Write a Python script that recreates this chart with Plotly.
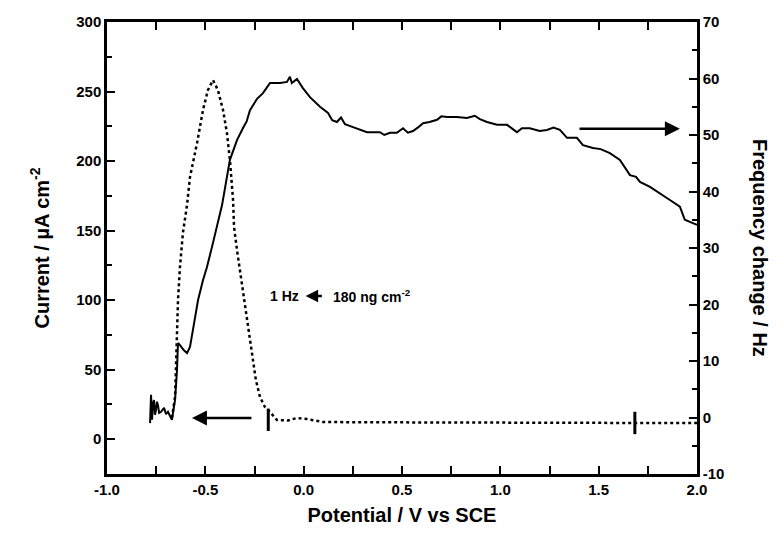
import plotly.graph_objects as go

# Current (dotted, left axis)
cur_x = [-0.670, -0.654, -0.644, -0.639, -0.629, -0.614, -0.593, -0.578, -0.542, -0.512,
         -0.487, -0.461, -0.436, -0.410, -0.390, -0.375, -0.359, -0.354, -0.339, -0.314,
         -0.288, -0.263, -0.243, -0.222, -0.197, -0.171, -0.136, -0.080, -0.034, 0.017,
         0.098, 0.300, 0.600, 1.000, 1.400, 1.700, 2.000]
cur_y = [15.3, 30.4, 76.4, 100.0, 123.8, 148.3, 168.4, 188.5, 213.0, 236.7,
         251.0, 258.2, 251.0, 236.7, 220.0, 200.7, 172.0, 152.6, 136.0, 112.3,
         87.9, 64.1, 42.6, 30.4, 23.2, 19.6, 13.8, 13.5, 15.3, 14.5,
         12.4, 12.2, 12.0, 11.8, 11.8, 11.7, 11.7]

# Frequency change (solid, right axis)
frq_x = [-0.781, -0.776, -0.771, -0.766, -0.761, -0.756, -0.751, -0.746, -0.741, -0.735,
         -0.725, -0.715, -0.710, -0.700, -0.690,
         -0.670, -0.654, -0.644, -0.639, -0.629, -0.609, -0.593, -0.578, -0.563, -0.537,
         -0.512, -0.492, -0.466, -0.441, -0.415, -0.375, -0.339, -0.309, -0.290, -0.273,
         -0.237, -0.207, -0.171, -0.140, -0.120, -0.085, -0.070, -0.060, -0.044, -0.034,
         -0.004, 0.032, 0.083, 0.100, 0.124, 0.145, 0.169, 0.190, 0.210, 0.251,
         0.322, 0.350, 0.388, 0.410, 0.439, 0.474, 0.505, 0.530, 0.556, 0.580,
         0.607, 0.640, 0.678, 0.700, 0.729, 0.779, 0.830, 0.870, 0.896, 0.932,
         0.983, 1.034, 1.060, 1.084, 1.110, 1.150, 1.200, 1.237, 1.270, 1.303,
         1.339, 1.389, 1.420, 1.471, 1.510, 1.557, 1.608, 1.659, 1.690, 1.710,
         1.761, 1.811, 1.862, 1.913, 1.938, 1.979, 2.000]
frq_y = [-1.0, 4.0, -0.4, 2.5, 3.1, 0.5, 1.3, 2.8, 2.2, 0.8,
         1.0, 1.6, 1.7, 0.6, 1.0,
         -0.4, 3.1, 8.4, 13.2, 12.8, 11.9, 11.4, 12.5, 15.5, 20.8,
         24.3, 26.6, 30.2, 33.7, 37.6, 45.6, 49.1, 51.2, 52.4, 54.4,
         56.4, 57.4, 59.2, 59.2, 59.2, 59.4, 60.3, 59.2, 59.7, 59.9,
         58.3, 56.7, 55.0, 54.6, 53.9, 52.6, 52.3, 53.1, 51.9, 51.4,
         50.5, 50.5, 50.5, 50.0, 50.4, 50.4, 51.2, 50.4, 50.7, 51.3,
         52.1, 52.3, 52.7, 53.3, 53.2, 53.2, 53.0, 53.4, 52.8, 52.3,
         51.8, 51.8, 51.2, 50.5, 51.2, 51.2, 50.7, 50.9, 51.3, 50.9,
         49.5, 49.5, 48.2, 47.7, 47.5, 46.8, 45.6, 42.9, 42.6, 41.7,
         40.8, 39.7, 38.5, 37.3, 35.0, 34.4, 34.1]

# Small vertical marks on the current trace
mark_x = [-0.18, 1.684]
mark_y = [14.0, 11.7]

x_ticks = [-1.0, -0.5, 0.0, 0.5, 1.0, 1.5, 2.0]
y_left_ticks = [0, 50, 100, 150, 200, 250, 300]
y_right_ticks = [-10, 0, 10, 20, 30, 40, 50, 60, 70]

fig = go.Figure()
fig.add_trace(go.Scatter(x=cur_x, y=cur_y, mode="lines",
                         line=dict(color="black", width=2.5, dash="dot"),
                         yaxis="y", showlegend=False))
fig.add_trace(go.Scatter(x=frq_x, y=frq_y, mode="lines",
                         line=dict(color="black", width=2),
                         yaxis="y2", showlegend=False))
fig.add_trace(go.Scatter(x=mark_x, y=mark_y, mode="markers",
                         marker=dict(symbol="line-ns", size=16,
                                     line=dict(color="black", width=3)),
                         yaxis="y", showlegend=False))

tickfont = dict(family="Liberation Sans, Arial, sans-serif", size=15, color="black")
titlefont = dict(family="Liberation Sans, Arial, sans-serif", size=20, color="black")
TC = "black"

fig.update_layout(
    width=781, height=541,
    margin=dict(l=107, r=84, t=22, b=67),
    paper_bgcolor="white", plot_bgcolor="white",
    xaxis=dict(range=[-1.0, 2.0], tickvals=x_ticks,
               ticktext=[f"<b>{v:.1f}</b>" for v in x_ticks],
               ticks="inside", ticklen=8, tickwidth=2, tickcolor=TC,
               minor=dict(dtick=0.25, tick0=0, ticks="inside", ticklen=5,
                          tickwidth=2, tickcolor=TC),
               showline=True, linewidth=2.5, linecolor="black", mirror="allticks",
               showgrid=False, zeroline=False, tickfont=tickfont,
               title=dict(text="<b>Potential / V vs SCE</b>", font=titlefont, standoff=12)),
    yaxis=dict(range=[-25, 300], tickvals=y_left_ticks,
               ticktext=[f"<b>{v}</b>" for v in y_left_ticks],
               ticks="inside", ticklen=8, tickwidth=2, tickcolor=TC,
               minor=dict(dtick=25, tick0=0, ticks="inside", ticklen=5,
                          tickwidth=2, tickcolor=TC),
               showline=True, linewidth=2.5, linecolor="black",
               showgrid=False, zeroline=False, tickfont=tickfont,
               title=dict(text="<b>Current / µA cm<sup>-2</sup></b>", font=titlefont, standoff=22)),
    yaxis2=dict(range=[-10, 70], tickvals=y_right_ticks,
                ticktext=[f"<b>{v}</b>" for v in y_right_ticks],
                overlaying="y", side="right",
                ticks="inside", ticklen=8, tickwidth=2, tickcolor=TC,
                minor=dict(dtick=5, tick0=0, ticks="inside", ticklen=5,
                           tickwidth=2, tickcolor=TC),
                showline=True, linewidth=2.5, linecolor="black",
                showgrid=False, zeroline=False, tickfont=tickfont),
)

# Right axis title, reading top to bottom
fig.add_annotation(text="<b>Frequency change / Hz</b>", xref="paper", yref="paper",
                   x=1.0, y=0.5, xshift=76, textangle=90, showarrow=False,
                   font=titlefont)

# Arrow pointing left (current axis)
fig.add_annotation(x=-0.568, y=15.3, ax=-0.258, ay=15.3, xref="x", yref="y",
                   axref="x", ayref="y", showarrow=True, arrowhead=2,
                   arrowsize=1.2, arrowwidth=2.5, arrowcolor="black", text="")
# Arrow pointing right (frequency axis)
fig.add_annotation(x=1.913, y=51.1, ax=1.395, ay=51.1, xref="x", yref="y2",
                   axref="x", ayref="y2", showarrow=True, arrowhead=2,
                   arrowsize=1.2, arrowwidth=2.5, arrowcolor="black", text="")

# Scale note
notefont = dict(family="Liberation Sans, Arial, sans-serif", size=14, color="black")
fig.add_annotation(text="<b>1 Hz</b>", x=-0.18, y=21.5, xref="x", yref="y2",
                   showarrow=False, xanchor="left", font=notefont)
fig.add_annotation(x=0.01, y=21.5, ax=0.10, ay=21.5, xref="x", yref="y2",
                   axref="x", ayref="y2", showarrow=True, arrowhead=2,
                   arrowsize=1, arrowwidth=2.5, arrowcolor="black", text="")
fig.add_annotation(text="<b>180 ng cm<sup>-2</sup></b>", x=0.14, y=21.5,
                   xref="x", yref="y2", showarrow=False, xanchor="left",
                   font=notefont)

fig.write_html("out.html")
